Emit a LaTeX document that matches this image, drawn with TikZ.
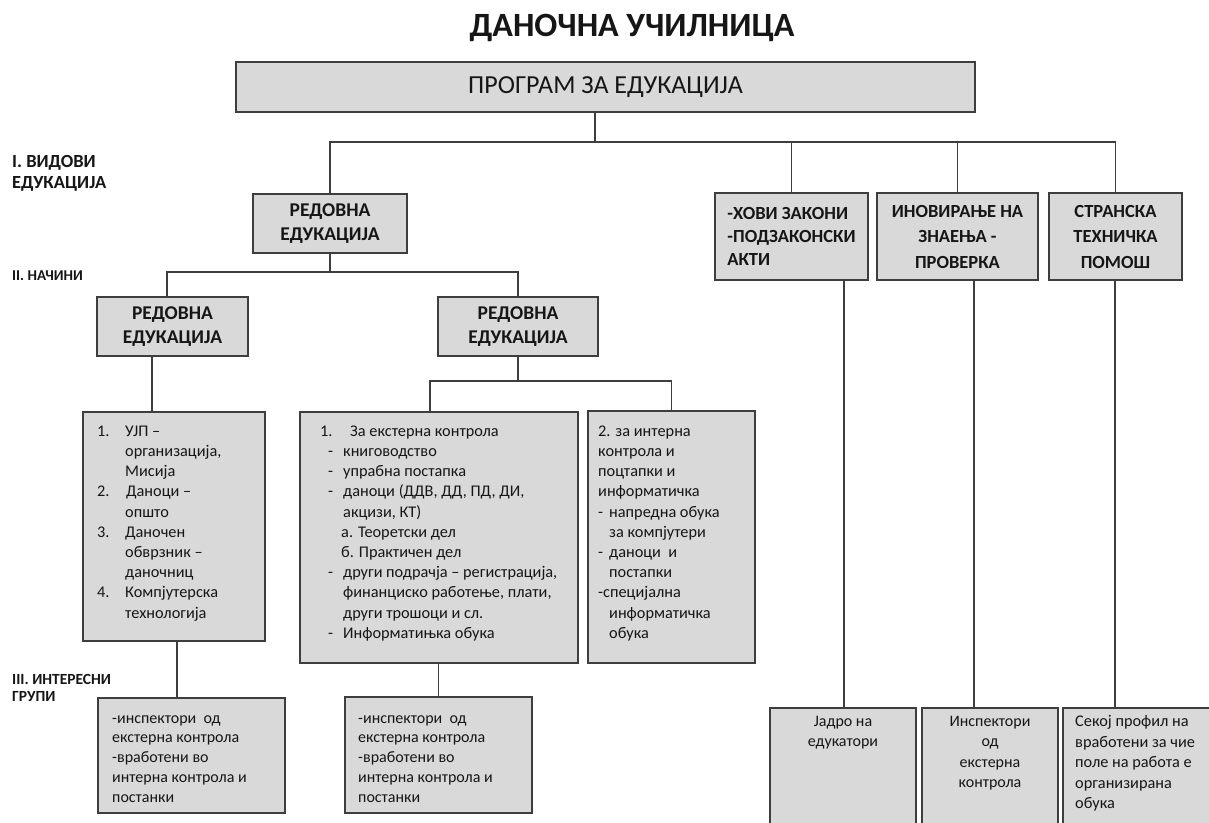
\documentclass[tikz,border=0pt]{standalone}
\usepackage{fontspec}
\setmainfont{Carlito}
\usetikzlibrary{calc}
\definecolor{boxfill}{RGB}{217,217,218}
\definecolor{edge}{RGB}{62,62,62}
\definecolor{ink}{RGB}{22,22,22}
\begin{document}
\begin{tikzpicture}[x=1pt,y=-1pt,
  box/.style={draw=edge, line width=1.4pt, fill=boxfill, inner sep=0pt, outer sep=0pt, anchor=north west, text=ink},
  link/.style={draw=edge, line width=1.2pt},
  body/.style={inner sep=0pt, anchor=north west, align=left, text=ink, font=\fontsize{16.3}{20.2}\selectfont},
  head/.style={align=center, font=\fontsize{19.5}{24}\selectfont\bfseries},
  side/.style={inner sep=0pt, anchor=north west, align=left, text=ink}]
\useasboundingbox (0,0) rectangle (1209,822);
\clip (0,0) rectangle (1209,822);

% title
\node[text=ink, inner sep=0pt, font=\fontsize{34}{40}\selectfont\bfseries] (title) at (632,28) {ДАНОЧНА УЧИЛНИЦА};

% boxes
\node[box, minimum width=739pt, minimum height=50pt, font=\fontsize{26}{30}\selectfont] (top) at (236,62) {ПРОГРАМ ЗА ЕДУКАЦИЈА};
\node[box, head, minimum width=154pt, minimum height=59pt] (red) at (253,194) {РЕДОВНА\\ЕДУКАЦИЈА};
\node[box, align=left, minimum width=153pt, minimum height=87pt, font=\fontsize{18.5}{23}\selectfont\bfseries] (hovi) at (715,193) {-ХОВИ ЗАКОНИ\\-ПОДЗАКОНСКИ\\АКТИ};
\node[box, align=center, minimum width=161pt, minimum height=87pt, font=\fontsize{18.5}{25.5}\selectfont\bfseries] (inov) at (877,193) {ИНОВИРАЊЕ НА\\ЗНАЕЊА -\\ПРОВЕРКА};
\node[box, align=center, minimum width=133pt, minimum height=87pt, font=\fontsize{18.5}{25.5}\selectfont\bfseries] (stran) at (1049,193) {СТРАНСКА\\ТЕХНИЧКА\\ПОМОШ};
\node[box, head, minimum width=151pt, minimum height=59pt] (redL) at (97,297) {РЕДОВНА\\ЕДУКАЦИЈА};
\node[box, head, minimum width=160pt, minimum height=59pt] (redR) at (438,297) {РЕДОВНА\\ЕДУКАЦИЈА};
\node[box, minimum width=182pt, minimum height=229pt] (tb1) at (83,412) {};
\node[box, minimum width=278pt, minimum height=251pt] (tb2) at (300,412) {};
\node[box, minimum width=167pt, minimum height=252pt] (tb3) at (588,411) {};
\node[box, minimum width=187pt, minimum height=115pt] (bb1) at (98,698) {};
\node[box, minimum width=187pt, minimum height=116pt] (bb2) at (345,697) {};
\node[box, minimum width=146pt, minimum height=132pt] (bA) at (770,708) {};
\node[box, minimum width=136pt, minimum height=132pt] (bB) at (922,708) {};
\node[box, minimum width=177pt, minimum height=132pt] (bC) at (1063,708) {};

% side labels
\node[side, font=\fontsize{18.5}{21.5}\selectfont\bfseries] (l1) at (12,152) {\strut I. ВИДОВИ\\ЕДУКАЦИЈА};
\node[side, anchor=base west, font=\fontsize{15}{18}\selectfont\bfseries] (l2) at (12,280) {II. НАЧИНИ};
\node[side, font=\fontsize{15.5}{17.5}\selectfont\bfseries] (l3) at (12,672) {\strut III. ИНТЕРЕСНИ\\ГРУПИ};

% body texts
\node[body] (t1) at (97,422) {\strut\makebox[28pt][l]{1.}УЈП –\\
\hspace*{28pt}организација,\\
\hspace*{28pt}Мисија\\
\makebox[29pt][l]{2.}Даноци –\\
\hspace*{28pt}општо\\
\makebox[28pt][l]{3.}Даночен\\
\hspace*{28pt}обврзник –\\
\hspace*{28pt}даночниц\\
\makebox[28pt][l]{4.}Компјутерска\\
\hspace*{28pt}технологија};

\node[body] (t2) at (320,422) {\strut\makebox[30pt][l]{1.}За екстерна контрола\\
\hspace*{8pt}\makebox[15pt][l]{-}книговодство\\
\hspace*{8pt}\makebox[15pt][l]{-}упрабна постапка\\
\hspace*{8pt}\makebox[15pt][l]{-}даноци (ДДВ, ДД, ПД, ДИ,\\
\hspace*{23pt}акцизи, КТ)\\
\hspace*{21pt}а. Теоретски дел\\
\hspace*{21pt}б. Практичен дел\\
\hspace*{8pt}\makebox[15pt][l]{-}други подрачја – регистрација,\\
\hspace*{23pt}финанциско работење, плати,\\
\hspace*{23pt}други трошоци и сл.\\
\hspace*{8pt}\makebox[15pt][l]{-}Информатињка обука};

\node[body] (t3) at (598,422) {\strut 2. за интерна\\
контрола и\\
поцтапки и\\
информатичка\\
\makebox[11pt][l]{-}напредна обука\\
\hspace*{11pt}за компјутери\\
\makebox[11pt][l]{-}даноци \ и\\
\hspace*{11pt}постапки\\
-специјална\\
\hspace*{11pt}информатичка\\
\hspace*{11pt}обука};

\node[body, font=\fontsize{16}{19.8}\selectfont] (t4) at (112,709) {\strut -инспектори \ од\\екстерна контрола\\-вработени во\\интерна контрола и\\постанки};
\node[body, font=\fontsize{16}{19.8}\selectfont] (t5) at (358,709) {\strut -инспектори \ од\\екстерна контрола\\-вработени во\\интерна контрола и\\постанки};
\node[body, anchor=north, align=center, font=\fontsize{16}{20.4}\selectfont] (t6) at (843,712) {\strut Јадро на\\едукатори};
\node[body, anchor=north, align=center, font=\fontsize{16}{20.4}\selectfont] (t7) at (990,712) {\strut Инспектори\\од\\екстерна\\контрола};
\node[body, font=\fontsize{16.3}{20.5}\selectfont] (t8) at (1075,712) {\strut Секој профил на\\вработени за чие\\поле на работа е\\организирана\\обука};

% connectors
\coordinate (j0) at (595,142);
\draw[link] (j0 |- top.south) -- (j0);
\draw[link] (red.north) |- (stran.north |- j0) -- (stran.north);
\draw[link] (hovi.north) -- (hovi.north |- j0);
\draw[link] (inov.north) -- (inov.north |- j0);

\coordinate (j1) at (0,272);
\coordinate (cL) at (167,0);
\draw[link] (red.south) -- (red.south |- j1);
\draw[link] (cL |- redL.north) |- (redR.north |- j1) -- (redR.north);

\coordinate (cL2) at (152,0);
\draw[link] (cL2 |- redL.south) -- (cL2 |- tb1.north);

\coordinate (j2) at (0,381);
\coordinate (c2) at (430,0);
\draw[link] (redR.south) -- (redR.south |- j2);
\draw[link] (c2 |- tb2.north) |- (tb3.north |- j2) -- (tb3.north);

\coordinate (c3) at (177,0);
\draw[link] (c3 |- tb1.south) -- (c3 |- bb1.north);
\draw[link] (bb2.north |- tb2.south) -- (bb2.north);

\coordinate (c4) at (844,0);
\draw[link] (c4 |- hovi.south) -- (c4 |- bA.north);
\coordinate (c5) at (974,0);
\draw[link] (c5 |- inov.south) -- (c5 |- bB.north);
\coordinate (c6) at (1115,0);
\draw[link] (c6 |- stran.south) -- (c6 |- bC.north);
\end{tikzpicture}
\end{document}
